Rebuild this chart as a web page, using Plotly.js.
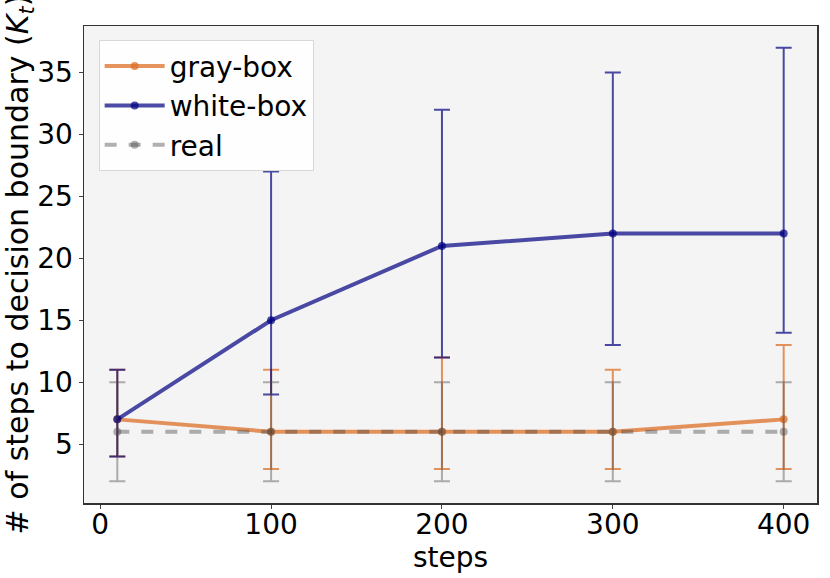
<!DOCTYPE html>
<html><head><meta charset="utf-8">
<script src="https://cdn.plot.ly/plotly-3.0.1.min.js"></script>
<style>html,body{margin:0;padding:0;background:#fff}#c{width:830px;height:578px}</style>
</head><body><div id="c"></div>
<script>
const steps = [10, 100, 200, 300, 400];
const grayMean = [7, 6, 6, 6, 7];
const grayHi = [11, 11, 12, 11, 13];
const grayLo = [4, 3, 3, 3, 3];
const whiteMean = [7, 15, 21, 22, 22];
const whiteHi = [11, 27, 32, 35, 37];
const whiteLo = [4, 9, 12, 13, 14];
const realMean = [6, 6, 6, 6, 6];
const realHi = [10, 10, 10, 10, 10];
const realLo = [2, 2, 2, 2, 2];
const yTicks = [5, 10, 15, 20, 25, 30, 35];
const xTicks = [0, 100, 200, 300, 400];

function tr(name, mean, hi, lo, color, dash) {
  return {
    x: steps, y: mean, name: name, type: 'scatter', mode: 'lines+markers',
    line: {color: color, width: 4, dash: dash},
    marker: {color: color, size: 8},
    error_y: {type: 'data', symmetric: false,
      array: hi.map((v, i) => v - mean[i]),
      arrayminus: mean.map((v, i) => v - lo[i]),
      color: color, thickness: 2, width: 8}
  };
}
const data = [
  tr('gray-box', grayMean, grayHi, grayLo, 'rgba(221,112,40,0.75)', 'solid'),
  tr('white-box', whiteMean, whiteHi, whiteLo, 'rgba(0,0,128,0.7)', 'solid'),
  tr('real', realMean, realHi, realLo, 'rgba(70,70,70,0.42)', 'dash')
];
const layout = {
  width: 830, height: 578,
  margin: {l: 84, r: 13, t: 26, b: 75},
  paper_bgcolor: '#ffffff', plot_bgcolor: '#f4f4f4',
  font: {family: 'DejaVu Sans', size: 28, color: '#000'},
  showlegend: true,
  legend: {x: 0.02, y: 0.97, xanchor: 'left', yanchor: 'top',
    bgcolor: 'rgba(255,255,255,0.85)', bordercolor: '#d8d8d8', borderwidth: 1,
    font: {family: 'DejaVu Sans', size: 28}, itemwidth: 60},
  xaxis: {range: [-9.5, 419.5], tickvals: xTicks, ticks: 'outside', ticklen: 4,
    ticklabelstandoff: -8,
    showgrid: false, zeroline: false, showline: true, mirror: true,
    linecolor: '#333', linewidth: 1.5, tickfont: {size: 28},
    title: {text: 'steps', font: {size: 28}, standoff: 2}},
  yaxis: {range: [0.25, 38.75], tickvals: yTicks, ticks: 'outside', ticklen: 4,
    showgrid: false, zeroline: false, showline: true, mirror: true,
    linecolor: '#333', linewidth: 1.5, tickfont: {size: 28},
    title: {text: '# of steps to decision boundary (<i>K</i><sub><i>t</i></sub>)', font: {size: 30}, standoff: 4}}
};
Plotly.newPlot('c', data, layout, {displayModeBar: false, staticPlot: true});
</script></body></html>
